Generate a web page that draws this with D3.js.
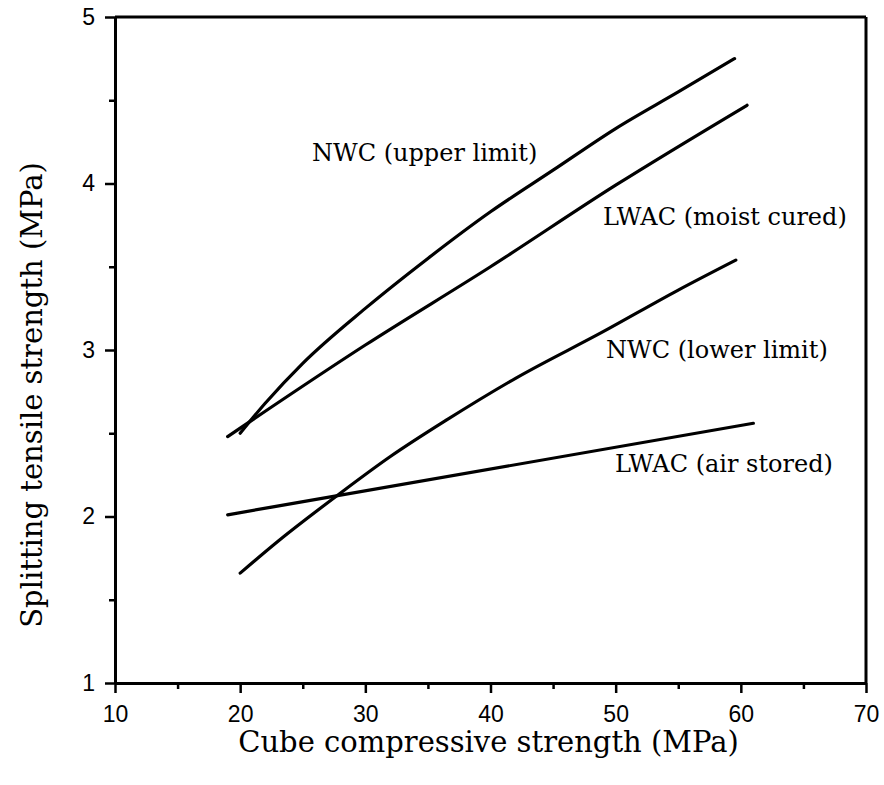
<!DOCTYPE html>
<html>
<head>
<title>Splitting tensile strength</title>
<script src="https://cdn.jsdelivr.net/npm/d3@7"></script>
<style>
  body { margin: 0; background: #fff; }
  .tick text { font-family: "Liberation Sans", Arial, sans-serif; font-size: 23px; fill: #000; }
  .serif { font-family: "DejaVu Serif", serif; fill: #000; }
</style>
</head>
<body>
<svg width="884" height="785"></svg>
<script>
// values (cube strength MPa, splitting strength MPa)
var nwcUpperX = [20, 22, 25, 30, 35, 40, 45, 50, 55, 59.5];
var nwcUpperY = [2.5, 2.68, 2.92, 3.25, 3.55, 3.83, 4.08, 4.33, 4.55, 4.75];

var lwacMoistX = [19, 30, 40, 50, 60.5];
var lwacMoistY = [2.48, 3.03, 3.5, 3.99, 4.47];

var nwcLowerX = [20, 23, 28, 32, 36.5, 42, 49, 55, 59.6];
var nwcLowerY = [1.66, 1.85, 2.14, 2.36, 2.58, 2.83, 3.11, 3.36, 3.54];

var lwacAirX = [19, 61];
var lwacAirY = [2.01, 2.56];

var xMajor = [10, 20, 30, 40, 50, 60, 70];
var xMinor = [15, 25, 35, 45, 55, 65];
var yMajor = [1, 2, 3, 4, 5];
var yMinor = [1.5, 2.5, 3.5, 4.5];

var seriesNames = ["NWC (upper limit)", "LWAC (moist cured)", "NWC (lower limit)", "LWAC (air stored)"];

var svg = d3.select("svg");
var plotLeft = 115, plotRight = 866, plotTop = 17, plotBottom = 683;

var x = d3.scaleLinear().domain([10, 70]).range([plotLeft, plotRight]);
var y = d3.scaleLinear().domain([1, 5]).range([plotBottom, plotTop]);

function zip(xs, ys) {
  return xs.map(function(v, i) { return [v, ys[i]]; });
}

var series = [zip(nwcUpperX, nwcUpperY), zip(lwacMoistX, lwacMoistY),
              zip(nwcLowerX, nwcLowerY), zip(lwacAirX, lwacAirY)];

// frame: top and right sides
svg.append("line").attr("x1", x(10)).attr("x2", x(70)).attr("y1", y(5)).attr("y2", y(5))
  .attr("stroke", "#000").attr("stroke-width", 3);
svg.append("line").attr("x1", x(70)).attr("x2", x(70)).attr("y1", y(5)).attr("y2", y(1))
  .attr("stroke", "#000").attr("stroke-width", 3);

// minor ticks
svg.append("g").attr("transform", "translate(0," + plotBottom + ")")
  .call(d3.axisBottom(x).tickValues(xMinor).tickSize(6).tickSizeOuter(0).tickFormat(""))
  .call(function(g) { g.select(".domain").remove(); });
svg.append("g").attr("transform", "translate(" + plotLeft + ",0)")
  .call(d3.axisLeft(y).tickValues(yMinor).tickSize(6).tickSizeOuter(0).tickFormat(""))
  .call(function(g) { g.select(".domain").remove(); });

// major ticks + labels
svg.append("g").attr("transform", "translate(0," + plotBottom + ")")
  .call(d3.axisBottom(x).tickValues(xMajor).tickSize(10).tickPadding(13).tickSizeOuter(0).tickFormat(d3.format("d")));
svg.append("g").attr("transform", "translate(" + plotLeft + ",0)")
  .call(d3.axisLeft(y).tickValues(yMajor).tickSize(10).tickPadding(10).tickSizeOuter(0).tickFormat(d3.format("d")));

svg.selectAll(".domain").attr("stroke-width", 3);
svg.selectAll(".tick line").attr("stroke-width", 2.5);

// curves
var line = d3.line()
  .x(function(d) { return x(d[0]); })
  .y(function(d) { return y(d[1]); })
  .curve(d3.curveMonotoneX);

svg.selectAll("path.curve").data(series).enter().append("path")
  .attr("class", "curve")
  .attr("d", line)
  .attr("fill", "none")
  .attr("stroke", "#000")
  .attr("stroke-width", 3.2)
  .attr("stroke-linecap", "round");

// curve labels
var labelPos = [[312, 161], [603, 225], [606, 358], [615, 472]];
svg.selectAll("text.lab").data(seriesNames).enter().append("text")
  .attr("class", "lab serif")
  .attr("x", function(d, i) { return labelPos[i][0]; })
  .attr("y", function(d, i) { return labelPos[i][1]; })
  .attr("font-size", 24)
  .text(function(d) { return d; });

// axis titles
svg.append("text").attr("class", "serif")
  .attr("x", (plotLeft + plotRight) / 2 - 2).attr("y", 752)
  .attr("text-anchor", "middle").attr("font-size", 29)
  .text("Cube compressive strength (MPa)");

svg.append("text").attr("class", "serif")
  .attr("transform", "translate(42,395) rotate(-90)")
  .attr("text-anchor", "middle").attr("font-size", 29)
  .text("Splitting tensile strength (MPa)");
</script>
</body>
</html>
